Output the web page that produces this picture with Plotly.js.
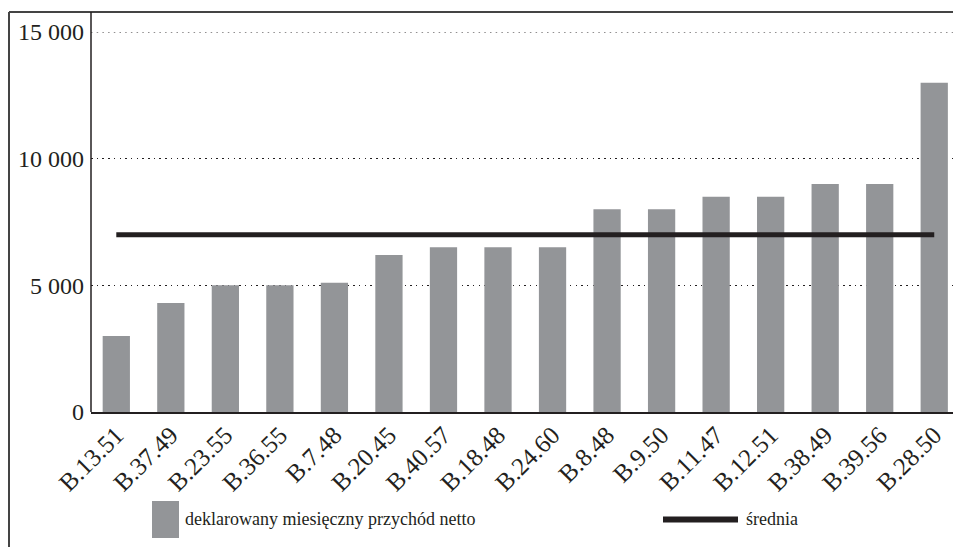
<!DOCTYPE html>
<html>
<head>
<meta charset="utf-8">
<script src="https://cdn.plot.ly/plotly-3.0.1.min.js"></script>
<style>html,body{margin:0;padding:0;background:#fff;}#chart{width:953px;height:547px;}</style>
</head>
<body>
<div id="chart"></div>
<script>
var categories = ["B.13.51","B.37.49","B.23.55","B.36.55","B.7.48","B.20.45","B.40.57","B.18.48","B.24.60","B.8.48","B.9.50","B.11.47","B.12.51","B.38.49","B.39.56","B.28.50"];
var incomeValues = [3000,4300,5000,5000,5100,6200,6500,6500,6500,8000,8000,8500,8500,9000,9000,13000];
var meanValue = 7000;
var yTicks = [0, 5000, 10000, 15000];
var seriesNames = ["deklarowany miesięczny przychód netto","średnia"];

var textColor = "#231f20";
var barColor = "#939598";
var serif = "Liberation Serif, Times New Roman, serif";
var gridDash = "1.5px,4.2px";

var bars = {
  type: "bar",
  x: categories,
  y: incomeValues,
  name: seriesNames[0],
  width: 0.5,
  marker: {color: barColor},
  showlegend: false
};
var meanLine = {
  type: "scatter",
  mode: "lines",
  x: [categories[0], categories[categories.length-1]],
  y: [meanValue, meanValue],
  name: seriesNames[1],
  line: {color: textColor, width: 5},
  showlegend: false
};

// plot area: x 91..953, y 32..412
function px(v){ return (v-91)/862; }
function py(v){ return (412-v)/380; }

var layout = {
  width: 953, height: 547,
  margin: {l: 91, r: 0, t: 32, b: 135},
  paper_bgcolor: "#fff", plot_bgcolor: "#fff",
  separators: ", ",
  font: {family: serif, color: textColor, size: 19},
  showlegend: false,
  xaxis: {
    type: "category",
    range: [-0.464, 15.344],
    tickangle: -45,
    tickfont: {family: serif, size: 25, color: textColor},
    showline: true, linecolor: "#231f20", linewidth: 1.5,
    showgrid: false, ticks: "", zeroline: false,
    ticklabelstandoff: -3,
    fixedrange: true
  },
  yaxis: {
    range: [0, yTicks[yTicks.length-1]],
    tickvals: yTicks,
    tickformat: ",d",
    separatethousands: true,
    tickfont: {family: serif, size: 24, color: textColor},
    showgrid: true, gridcolor: "#231f20", gridwidth: 1, griddash: gridDash,
    zeroline: false, showline: false, ticks: "",
    ticklabelstandoff: 6,
    fixedrange: true
  },
  shapes: [
    // top gridline (at range edge, not drawn by the axis)
    {type: "line", xref: "paper", yref: "y", x0: 0, x1: 1, y0: yTicks[yTicks.length-1], y1: yTicks[yTicks.length-1], line: {color: "#231f20", width: 1, dash: gridDash}},
    // outer frame
    {type: "line", xref: "paper", yref: "paper", x0: px(9), x1: px(9), y0: py(547), y1: py(12), line: {color: "#444", width: 2}},
    {type: "line", xref: "paper", yref: "paper", x0: px(9), x1: 1, y0: py(12), y1: py(12), line: {color: "#444", width: 2}},
    // y axis line extended to the frame
    {type: "line", xref: "paper", yref: "paper", x0: 0, x1: 0, y0: 0, y1: py(12), line: {color: "#231f20", width: 1.5}},
    // legend symbols
    {type: "rect", xref: "paper", yref: "paper", x0: px(152), x1: px(179), y0: py(538), y1: py(501), fillcolor: barColor, line: {width: 0}},
    {type: "line", xref: "paper", yref: "paper", x0: px(663), x1: px(738), y0: py(519.5), y1: py(519.5), line: {color: textColor, width: 6}}
  ],
  annotations: [
    {xref: "paper", yref: "paper", x: px(183), y: py(519), xanchor: "left", yanchor: "middle", showarrow: false, text: seriesNames[0], font: {family: serif, size: 18, color: textColor}},
    {xref: "paper", yref: "paper", x: px(744), y: py(519), xanchor: "left", yanchor: "middle", showarrow: false, text: seriesNames[1], font: {family: serif, size: 18, color: textColor}}
  ]
};

Plotly.newPlot("chart", [bars, meanLine], layout, {displayModeBar: false, staticPlot: true});
</script>
</body>
</html>
